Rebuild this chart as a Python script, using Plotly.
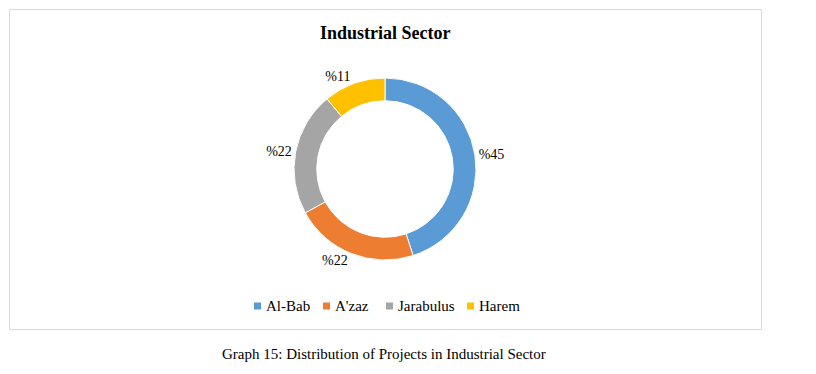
import plotly.graph_objects as go

categories = ["Al-Bab", "A'zaz", "Jarabulus", "Harem"]
values = [45, 22, 22, 11]
colors = ["#5B9BD5", "#ED7D31", "#A5A5A5", "#FFC000"]
title_text = "Industrial Sector"
caption_text = "Graph 15: Distribution of Projects in Industrial Sector"

W, H = 816, 374
cx, cy, R = 385, 169, 91
FONT = "Liberation Serif"

# legend layout (pixel positions of the colour squares)
legend_sq_x = [254, 323, 386, 467]
legend_y = 306
sq = 7

fig = go.Figure(go.Pie(
    labels=categories,
    values=values,
    sort=False,
    direction="clockwise",
    rotation=0,
    hole=0.75,
    marker=dict(colors=colors, line=dict(color="white", width=1)),
    texttemplate="%%{value}",
    textposition="outside",
    textfont=dict(family=FONT, size=14, color="#000000"),
    hoverinfo="label+value",
    showlegend=False,
    domain=dict(x=[(cx - R) / W, (cx + R) / W], y=[1 - (cy + R) / H, 1 - (cy - R) / H]),
))

shapes = [dict(type="rect", xref="paper", yref="paper",
               x0=9.5 / W, x1=761.5 / W, y0=1 - 329.5 / H, y1=1 - 9.5 / H,
               line=dict(color="#D9D9D9", width=1), fillcolor="rgba(0,0,0,0)")]
annotations = [
    dict(text="<b>" + title_text + "</b>", xref="paper", yref="paper",
         x=cx / W, y=1 - 33 / H, xanchor="center", yanchor="middle", showarrow=False,
         font=dict(family=FONT, size=18, color="#000000")),
    dict(text=caption_text, xref="paper", yref="paper",
         x=384 / W, y=1 - 354 / H, xanchor="center", yanchor="middle", showarrow=False,
         font=dict(family=FONT, size=15, color="#000000")),
]
for name, col, sx in zip(categories, colors, legend_sq_x):
    shapes.append(dict(type="rect", xref="paper", yref="paper",
                       x0=sx / W, x1=(sx + sq) / W,
                       y0=1 - (legend_y + sq / 2) / H, y1=1 - (legend_y - sq / 2) / H,
                       line=dict(width=0), fillcolor=col))
    annotations.append(dict(text=name, xref="paper", yref="paper",
                            x=(sx + sq + 3) / W, y=1 - legend_y / H,
                            xanchor="left", yanchor="middle", showarrow=False,
                            font=dict(family=FONT, size=15, color="#000000")))

fig.update_layout(
    width=W, height=H,
    margin=dict(l=0, r=0, t=0, b=0),
    paper_bgcolor="white",
    plot_bgcolor="white",
    font=dict(family=FONT, color="#000000"),
    showlegend=False,
    shapes=shapes,
    annotations=annotations,
)

fig.write_html("out.html", config={"displayModeBar": False},
               post_script="document.body.style.margin='0';document.body.style.padding='0';")
